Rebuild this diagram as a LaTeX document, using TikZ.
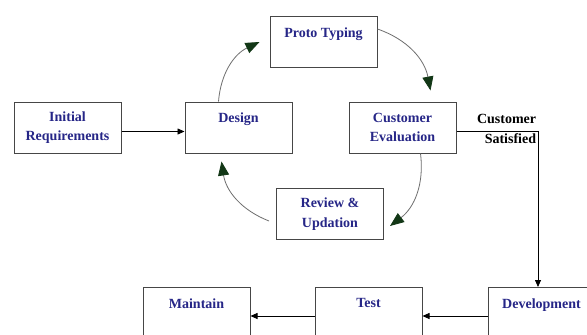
\documentclass[tikz,border=0pt]{standalone}
\usepackage{fontspec}
\setmainfont{Liberation Serif}
\usepackage{xcolor}
\usetikzlibrary{arrows.meta, positioning}
\definecolor{boxgray}{RGB}{70,70,70}
\definecolor{textblue}{RGB}{38,38,135}
\definecolor{arrowgreen}{RGB}{18,55,22}
\definecolor{curvegray}{RGB}{110,110,110}
\tikzset{
  stage/.style={rectangle, minimum width=107pt, minimum height=51pt, inner sep=0pt, align=center, draw=boxgray, line width=1pt, text=textblue, font=\fontsize{14}{19.5}\selectfont\bfseries},
  note/.style={inner sep=0pt, align=right, text=black, font=\fontsize{14}{19.5}\selectfont\bfseries},
  arrow/.style={-{Triangle[length=7pt, width=6pt]}, line width=0.8pt},
  cyclearrow/.style={-{Triangle[length=14pt, width=11pt, color=arrowgreen]}, draw=curvegray, line width=0.8pt, bend left=30},
}

\begin{document}
\begin{tikzpicture}[x=1pt, y=-1pt]
\path[use as bounding box, fill=white] (0,0) rectangle (587,335);
\clip (0,0) rectangle (587,335);
\node (init) [stage] at (67.5,127.5) {Initial\\Requirements};
\node (design) [stage, right=63pt of init] {Design\\\mbox{}};
\node (proto) [stage] at (323.5,42) {Proto Typing\\\mbox{}};
\node (eval) [stage, right=56pt of design] {Customer\\Evaluation};
\node (review) [stage] at (330,214) {Review \&\\Updation};
\node (dev) [stage] at (541.5,313) {Development\\\mbox{}};
\node (test) [stage, left=65pt of dev] {Test\\\mbox{}};
\node (maint) [stage, left=64pt of test] {Maintain\\\mbox{}};
\draw[arrow] ([yshift=-4pt]init.east) -- ([yshift=-4pt]design.west);
\draw[cyclearrow] ([xshift=-20pt]design.north) to ([xshift=-10pt]proto.west);
\draw[cyclearrow] ([yshift=13pt]proto.east) to ([xshift=28pt, yshift=11pt]eval.north);
\draw[cyclearrow] ([xshift=18pt]eval.south) to ([xshift=6pt, yshift=-12pt]review.east);
\draw[cyclearrow] ([xshift=-7pt, yshift=-7pt]review.west) to ([xshift=-17pt, yshift=-8pt]design.south);
\draw[arrow] ([yshift=-3.5pt]eval.east) -| node[note, pos=0.5, anchor=east, xshift=-1.5pt, yshift=2pt] {Customer\\Satisfied} ([xshift=-3.5pt]dev.north);
\draw[arrow] ([yshift=-3pt]dev.west) -- ([yshift=-3pt]test.east);
\draw[arrow] ([yshift=-3pt]test.west) -- ([yshift=-3pt]maint.east);
\end{tikzpicture}
\end{document}
